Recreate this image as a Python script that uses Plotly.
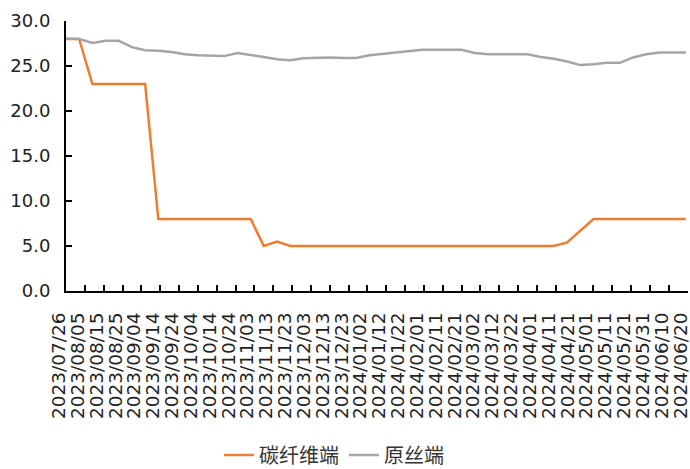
import plotly.graph_objects as go

# Weekly observation dates
dates = [
    "2023-07-26", "2023-08-02", "2023-08-09", "2023-08-16", "2023-08-23", "2023-08-30",
    "2023-09-06", "2023-09-13", "2023-09-20", "2023-09-27", "2023-10-04", "2023-10-11",
    "2023-10-18", "2023-10-25", "2023-11-01", "2023-11-08", "2023-11-15", "2023-11-22",
    "2023-11-29", "2023-12-06", "2023-12-13", "2023-12-20", "2023-12-27", "2024-01-03",
    "2024-01-10", "2024-01-17", "2024-01-24", "2024-01-31", "2024-02-07", "2024-02-14",
    "2024-02-21", "2024-02-28", "2024-03-06", "2024-03-13", "2024-03-20", "2024-03-27",
    "2024-04-03", "2024-04-10", "2024-04-17", "2024-04-24", "2024-05-01", "2024-05-08",
    "2024-05-15", "2024-05-22", "2024-05-29", "2024-06-05", "2024-06-12", "2024-06-19",
]

# 碳纤维端
carbon_fiber = [
    28.0, 28.0, 23.0, 23.0, 23.0, 23.0,
    23.0, 8.0, 8.0, 8.0, 8.0, 8.0,
    8.0, 8.0, 8.0, 5.0, 5.5, 5.0,
    5.0, 5.0, 5.0, 5.0, 5.0, 5.0,
    5.0, 5.0, 5.0, 5.0, 5.0, 5.0,
    5.0, 5.0, 5.0, 5.0, 5.0, 5.0,
    5.0, 5.0, 5.4, 6.7, 8.0, 8.0,
    8.0, 8.0, 8.0, 8.0, 8.0, 8.0,
]

# 原丝端
precursor = [
    28.05, 28.0, 27.55, 27.8, 27.8, 27.1,
    26.75, 26.7, 26.55, 26.3, 26.2, 26.15,
    26.1, 26.45, 26.25, 26.0, 25.75, 25.65,
    25.85, 25.9, 25.95, 25.9, 25.9, 26.2,
    26.35, 26.5, 26.6, 26.8, 26.8, 26.8,
    26.8, 26.45, 26.3, 26.3, 26.3, 26.3,
    26.0, 25.8, 25.5, 25.1, 25.2, 25.35,
    25.35, 25.95, 26.3, 26.5, 26.5, 26.5,
]

y_ticks = [0, 5, 10, 15, 20, 25, 30]

fig = go.Figure()
fig.add_trace(go.Scatter(
    x=dates, y=carbon_fiber, name="碳纤维端", mode="lines",
    line=dict(color="#ED7D31", width=2.5),
))
fig.add_trace(go.Scatter(
    x=dates, y=precursor, name="原丝端", mode="lines",
    line=dict(color="#A5A5A5", width=2.5),
))

tick_font = dict(family="DejaVu Sans, Arial, sans-serif", color="#222222")

fig.update_layout(
    width=690, height=469,
    margin=dict(l=66, r=2, t=21, b=178, autoexpand=False),
    paper_bgcolor="white", plot_bgcolor="white",
    showlegend=True,
    legend=dict(
        orientation="h",
        xref="container", x=0.484, xanchor="center",
        yref="container", y=0.03, yanchor="middle",
        font=dict(family="Noto Sans CJK SC", size=20, color="#333333"),
        bgcolor="rgba(0,0,0,0)",
    ),
)

fig.update_xaxes(
    type="date",
    range=["2023-07-26", "2024-06-20 04:00"],
    tick0="2023-07-26", dtick=10 * 86400000,
    tickformat="%Y/%m/%d", tickangle=-90,
    tickfont=dict(size=18.5, **tick_font),
    ticks="inside", ticklen=6, tickwidth=1.5, tickcolor="black",
    showline=True, linecolor="black", linewidth=2,
    showgrid=False, zeroline=False, automargin=False,
    ticklabelstandoff=12, ticklabelshift=-7, ticklabeloverflow="allow",
)

fig.update_yaxes(
    range=[0, 30],
    tickvals=y_ticks,
    tickformat=".1f",
    tickfont=dict(size=18, **tick_font),
    ticks="inside", ticklen=6, tickwidth=1.5, tickcolor="black",
    showline=True, linecolor="black", linewidth=2,
    showgrid=False, zeroline=False, automargin=False,
    ticklabelstandoff=10,
)

fig.write_html("out.html")
